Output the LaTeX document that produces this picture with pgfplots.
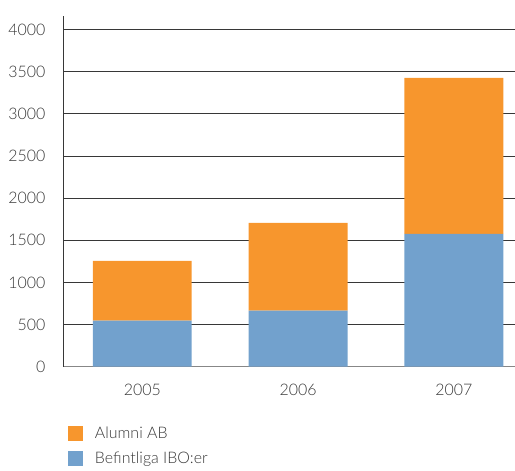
\documentclass[border=0pt]{standalone}
\usepackage{fontspec}
\setmainfont{Lato Light}
\usepackage{pgfplots}
\pgfplotsset{compat=1.18}
\definecolor{cOrange}{RGB}{247,150,45}
\definecolor{cBlue}{RGB}{114,161,205}
\definecolor{cText}{RGB}{55,55,55}
\definecolor{cGrid}{RGB}{55,55,55}
\begin{document}
\begin{tikzpicture}
\begin{axis}[
  scale only axis,
  width=451bp, height=351bp,
  ybar stacked,
  bar width=99bp,
  xmin=-0.503, xmax=2.39,
  ymin=0, ymax=4160,
  xtick={0,1,2},
  xticklabels={2005,2006,2007},
  ytick={0,500,...,4000},
  major tick length=0pt,
  axis x line*=bottom,
  axis y line*=left,
  x axis line style={draw=cGrid!60, line width=0.9bp, -},
  y axis line style={draw=cGrid, line width=0.9bp, -},
  ymajorgrids,
  grid style={draw=cGrid, line width=0.8bp},
  /pgf/number format/assume math mode=true,
  /pgf/number format/1000 sep={},
  tick label style={font=\fontsize{16}{19}\selectfont, text=cText},
  yticklabel style={xshift=-15bp},
  xticklabel style={yshift=-14bp},
  legend style={at={(0.002,-0.16)}, anchor=north west, draw=none, fill=none,
    font=\fontsize{16}{19}\selectfont, text=cText,
    row sep=8bp, /tikz/every odd column/.append style={column sep=10bp}},
  legend cell align=left,
  reverse legend,
  legend image code/.code={\fill[#1] (0bp,-7.5bp) rectangle (15bp,7.5bp);},
]
\addplot[fill=cBlue, draw=none] coordinates {(0,545) (1,664) (2,1576)};
\addlegendentry{Befintliga IBO:er}
\addplot[fill=cOrange, draw=none] coordinates {(0,710) (1,1043) (2,1849)};
\addlegendentry{Alumni AB}
\end{axis}
\useasboundingbox (-64bp,-104bp) rectangle (451bp,367bp);
\end{tikzpicture}
\end{document}
